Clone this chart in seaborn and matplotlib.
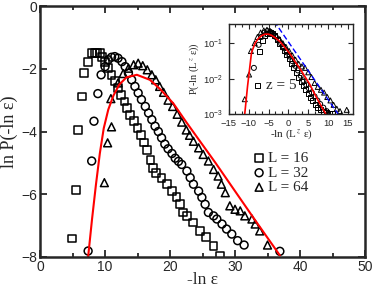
import numpy as np
import pandas as pd
import matplotlib
matplotlib.use("Agg")
import matplotlib.pyplot as plt
import seaborn as sns
from matplotlib.ticker import MultipleLocator, NullLocator, FixedLocator

# main panel: ln P(-ln eps) vs -ln eps
x16 = [4.9, 5.5, 5.9, 6.4, 6.8, 7.4, 8.0, 8.4, 8.8, 9.2, 9.5, 10.0, 10.5, 11.0, 11.5, 12.0,
       12.5, 13.0, 13.4, 13.9, 14.4, 15.0, 15.5, 16.0, 16.5, 17.0, 17.4, 17.9, 18.7, 19.5,
       20.3, 21.0, 21.5, 22.0, 22.6, 23.6, 24.6, 25.6, 26.7, 27.7]
y16 = [-7.41, -5.87, -3.94, -2.88, -2.14, -1.77, -1.5, -1.5, -1.5, -1.5, -1.61, -1.77, -1.98,
       -2.19, -2.4, -2.61, -2.83, -3.04, -3.25, -3.46, -3.67, -3.88, -4.1, -4.35, -4.6, -4.9,
       -5.15, -5.31, -5.47, -5.68, -5.9, -6.1, -6.32, -6.58, -6.69, -6.9, -7.17, -7.37, -7.64, -7.96]

x32 = [7.4, 7.95, 8.3, 8.9, 9.4, 10.0, 10.5, 11.0, 11.5, 12.0, 12.6, 13.1, 13.6, 14.1, 14.6,
       15.1, 15.6, 16.2, 16.7, 17.2, 17.7, 18.2, 18.7, 19.2, 19.7, 20.3, 20.8, 21.3, 21.8,
       22.6, 23.1, 23.6, 24.4, 24.9, 25.4, 25.9, 26.7, 27.2, 28.0, 28.7, 29.5, 30.4, 31.4, 36.9]
y32 = [-7.81, -4.94, -3.67, -2.79, -2.19, -1.93, -1.71, -1.63, -1.61, -1.66, -1.77, -1.93,
       -2.14, -2.35, -2.56, -2.77, -2.98, -3.2, -3.41, -3.62, -3.83, -4.0, -4.2, -4.4, -4.55,
       -4.7, -4.85, -4.95, -5.05, -5.26, -5.47, -5.68, -5.9, -6.1, -6.32, -6.58, -6.69, -6.79,
       -6.95, -7.11, -7.27, -7.48, -7.62, -7.82]

x64 = [9.9, 10.4, 11.0, 10.9, 12.0, 12.8, 13.6, 14.4, 15.1, 15.8, 16.5, 17.2, 17.8, 18.4,
       19.0, 19.7, 20.4, 21.1, 21.8, 22.5, 23.0, 23.6, 24.4, 25.1, 25.9, 26.7, 27.4, 27.9,
       28.5, 29.2, 30.0, 30.8, 31.5, 32.6, 33.1, 33.8, 35.0]
y64 = [-5.63, -4.36, -3.85, -2.95, -2.45, -2.15, -1.98, -1.87, -1.82, -1.9, -2.03, -2.19,
       -2.35, -2.56, -2.75, -3.0, -3.2, -3.45, -3.7, -3.95, -4.12, -4.31, -4.52, -4.73, -4.94,
       -5.21, -5.42, -5.68, -5.95, -6.37, -6.48, -6.53, -6.69, -6.79, -6.95, -7.17, -7.62]

fit_x = [7.4, 8.0, 8.6, 9.2, 9.8, 10.5, 11.3, 12.2, 13.3, 14.9, 16.9, 18.5, 20.5, 22.5,
         24.4, 27.0, 30.0, 33.0, 36.9]
fit_y = [-8.0, -6.8, -5.7, -4.7, -3.9, -3.3, -2.85, -2.5, -2.27, -2.19, -2.35, -2.65, -3.1,
         -3.7, -4.25, -5.0, -5.9, -6.8, -7.95]

# inset: scaled data, log y
ix16 = [-7.9, -7.2, -6.6, -5.9, -5.2, -4.6, -4.0, -3.4, -2.8, -2.2, -1.6, -1.0, -0.4, 0.2,
        0.8, 1.4, 2.0, 2.6, 3.2, 3.8, 4.4, 5.0, 5.6, 6.2, 6.8, 7.4, 8.0, 8.8, 9.6, 10.4, 11.2]
iy16 = [0.0063, 0.06, 0.12, 0.17, 0.19, 0.2, 0.19, 0.16, 0.13, 0.1, 0.08, 0.062, 0.047,
        0.036, 0.027, 0.02, 0.015, 0.011, 0.008, 0.0062, 0.0048, 0.0038, 0.003, 0.0024,
        0.0019, 0.0015, 0.0013, 0.0012, 0.0011, 0.00105, 0.00105]

ix32 = [-8.7, -7.5, -6.8, -6.0, -5.3, -4.6, -3.9, -3.2, -2.5, -1.8, -1.1, -0.4, 0.3, 1.0,
        1.7, 2.4, 3.1, 3.8, 4.5, 5.2, 5.9, 6.6, 7.3, 8.0, 8.8, 9.6]
iy32 = [0.02, 0.09, 0.15, 0.2, 0.22, 0.21, 0.18, 0.15, 0.12, 0.095, 0.072, 0.055, 0.042,
        0.031, 0.023, 0.017, 0.012, 0.0088, 0.0067, 0.0052, 0.004, 0.0031, 0.0024, 0.0019,
        0.0015, 0.0012]

ix64 = [-11.0, -9.9, -9.45, -8.5, -7.8, -7.0, -6.2, -5.4, -4.6, -3.8, -3.0, -2.2, -1.4,
        -0.6, 0.2, 1.0, 1.8, 2.6, 3.4, 4.2, 5.0, 5.8, 6.6, 7.4, 8.2, 9.0, 9.8, 10.6, 11.4,
        12.2, 13.0, 14.7]
iy64 = [0.0026, 0.013, 0.06, 0.1, 0.15, 0.2, 0.23, 0.24, 0.22, 0.19, 0.16, 0.13, 0.1,
        0.078, 0.06, 0.045, 0.034, 0.026, 0.022, 0.02, 0.015, 0.011, 0.0075, 0.0058, 0.0048,
        0.004, 0.003, 0.0024, 0.0018, 0.0014, 0.0012, 0.0013]

ifit_x = [-11.0, -10.3, -9.3, -8.4, -7.6, -6.7, -5.9, -5.0, -4.2, -3.4, -2.1, -0.9, 0.4,
          1.6, 2.8, 4.1, 5.4, 6.7, 8.0, 9.2, 9.4]
ifit_y = [0.001, 0.006, 0.054, 0.1, 0.135, 0.165, 0.18, 0.18, 0.165, 0.145, 0.11, 0.076,
          0.05, 0.031, 0.02, 0.0117, 0.0068, 0.0035, 0.0019, 0.0011, 0.001]

slope_x = [-3.6, 12.5]
slope_y = [0.42, 0.001]

sns.set_style("ticks")
plt.rcParams['font.family'] = ['Liberation Sans', 'DejaVu Sans']
plt.rcParams['mathtext.fontset'] = 'stix'
serif = ['Liberation Serif', 'DejaVu Serif']

fig = plt.figure(figsize=(3.74, 2.92), dpi=100)
ax = fig.add_axes([0.107, 0.120, 0.869, 0.859])

mk = dict(facecolor='none', edgecolor='black', linewidth=1.1, s=32)
sns.scatterplot(x=x16, y=y16, marker='s', ax=ax, label='L = 16', **mk)
sns.scatterplot(x=x32, y=y32, marker='o', ax=ax, label='L = 32', **mk)
sns.scatterplot(x=x64, y=y64, marker='^', ax=ax, label='L = 64', **mk)
sns.lineplot(x=fit_x, y=fit_y, color='red', linewidth=1.5, sort=False, ax=ax)

ax.set_xlim(0, 50)
ax.set_ylim(-8, 0)
ax.xaxis.set_major_locator(MultipleLocator(10))
ax.xaxis.set_minor_locator(MultipleLocator(5))
ax.yaxis.set_major_locator(MultipleLocator(2))
ax.tick_params(which='both', direction='in', top=True, right=True, width=1.3, labelsize=10,
               pad=2)
ax.tick_params(which='major', length=5)
ax.tick_params(which='minor', length=3)
for sp in ax.spines.values():
    sp.set_linewidth(1.8)
ax.set_xlabel('-ln ε', fontsize=12.5, family=serif, labelpad=-1)
ax.set_ylabel('ln P(-ln ε)', fontsize=13, family=serif, labelpad=2)
ax.legend(loc='upper left', bbox_to_anchor=(0.66, 0.42), frameon=False, handlelength=0.6,
          handletextpad=0.3, labelspacing=0.05, borderpad=0, borderaxespad=0,
          prop={'family': serif, 'size': 11})

# inset
ins = fig.add_axes([0.612, 0.610, 0.332, 0.308])
imk = dict(facecolor='none', edgecolor='black', linewidth=0.7, s=13)
sns.scatterplot(x=ix16, y=iy16, marker='s', ax=ins, **imk)
sns.scatterplot(x=ix32, y=iy32, marker='o', ax=ins, **imk)
sns.scatterplot(x=ix64, y=iy64, marker='^', ax=ins, **imk)
sns.lineplot(x=ifit_x, y=ifit_y, color='red', linewidth=1.2, sort=False, ax=ins)
sns.lineplot(x=slope_x, y=slope_y, color='blue', linewidth=1.0, linestyle=(0, (4, 2)),
             sort=False, ax=ins)
ins.set_yscale('log')
ins.set_xlim(-15, 16.3)
ins.set_ylim(1e-3, 0.35)
ins.xaxis.set_major_locator(MultipleLocator(5))
ins.xaxis.set_minor_locator(MultipleLocator(5 / 3))
ins.yaxis.set_major_locator(FixedLocator([1e-3, 1e-2, 1e-1]))
ins.yaxis.set_minor_locator(NullLocator())
ins.tick_params(which='both', direction='in', top=True, right=True, width=0.8, labelsize=6.8)
ins.tick_params(axis='x', pad=3.5)
ins.tick_params(axis='y', pad=4.5)
ins.tick_params(which='major', length=3.5)
ins.tick_params(which='minor', length=2)
for sp in ins.spines.values():
    sp.set_linewidth(1.0)
ins.set_xlabel('-ln (L$^{\\,z}$ ε)', fontsize=8, family=serif, labelpad=0)
ins.set_ylabel('P(-ln (L$^{\\,z}$ ε))', fontsize=7.5, family=serif, labelpad=1)
ins.text(-5.6, 0.0063, 'z = 5', fontsize=11, family=serif, va='center')

fig.savefig('out.png', dpi=100)
